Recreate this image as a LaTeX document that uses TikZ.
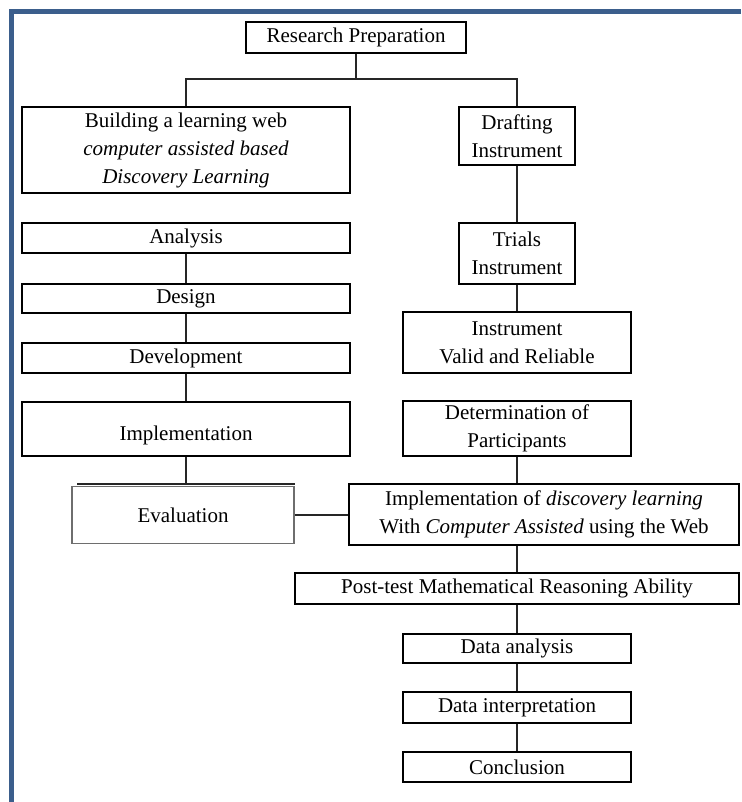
\documentclass[tikz,border=0pt]{standalone}
\usepackage{fontspec}
\setmainfont{Liberation Serif}
\usepackage{tikz}
\usetikzlibrary{positioning,calc}
\definecolor{framecol}{HTML}{3B5E8C}
\definecolor{evalgray}{HTML}{6E6E6E}

\begin{document}
\begin{tikzpicture}[
        x=1pt, y=-1pt,
        font=\fontsize{21}{28}\selectfont,
        box/.style={draw, line width=1.2pt, inner sep=0pt, align=center},
        thickbox/.style={box, line width=1.8pt},
        evalbox/.style={box, draw=evalgray, line width=1.6pt},
        line/.style={line width=1.2pt, draw=black!85},
    ]
        \useasboundingbox (0,0) rectangle (741,802);
        
        % --- frame ---
        \draw[framecol, line width=5pt] (11.5,802) -- (11.5,11.5) -- (741,11.5);
        
        % --- top ---
        \node[thickbox, minimum width=220pt, minimum height=31pt] (prep) at (356,37.5) {Research Preparation};
        \coordinate (split) at (356,79);
        
        % --- left column ---
        \node[box, minimum width=328pt, minimum height=86pt] (build) at (186,150)
            {Building a learning web\\\textit{computer assisted based}\\\textit{Discovery Learning}};
        \node[box, minimum width=328pt, minimum height=30pt] (analysis) at (186,238) {Analysis};
        \node[box, minimum width=328pt, minimum height=29pt] (design) at (186,298.5) {Design};
        \node[box, minimum width=328pt, minimum height=30pt] (develop) at (186,358) {Development};
        \node[box, minimum width=328pt, minimum height=54pt] (impl) at (186,429) {~\\Implementation};
        \node[evalbox, minimum width=222pt, minimum height=57pt] (eval) at (183,515) {Evaluation};
        \coordinate (barleft) at (77,484);
        \coordinate (barright) at (295,484);
        
        % --- right column ---
        \node[box, minimum width=116pt, minimum height=58pt] (draft) at (517,136) {Drafting\\Instrument};
        \node[box, minimum width=116pt, minimum height=61pt] (trial) at (517,253.5) {Trials\\Instrument};
        \node[thickbox, minimum width=228pt, minimum height=61pt] (valid) at (517,342.5) {Instrument\\Valid and Reliable};
        \node[thickbox, minimum width=228pt, minimum height=55pt] (determ) at (517,428.5) {Determination of\\Participants};
        \node[box, minimum width=390pt, minimum height=61pt] (impdl) at (544,514.5)
            {Implementation of \textit{discovery learning}\\With \textit{Computer Assisted} using the Web};
        \node[box, minimum width=444pt, minimum height=31pt] (post) at (517,588.5) {Post-test Mathematical Reasoning Ability};
        \node[thickbox, minimum width=228pt, minimum height=29pt] (dana) at (517,648.5) {Data analysis};
        \node[box, minimum width=228pt, minimum height=31pt] (dint) at (517,707.5) {Data interpretation};
        \node[thickbox, minimum width=228pt, minimum height=30pt] (concl) at (517,767) {Conclusion};
        
        % wiring: prep splits to build, draft
        \draw[line] (prep.south) -- (split);
        \draw[line] (build.north) |- (split) -| (draft.north);
        
        % left chain
        \draw[line] (analysis.south) -- (design.north);
        \draw[line] (design.south) -- (develop.north);
        \draw[line] (develop.south) -- (impl.north);
        \draw[line] (impl.south) -- (impl.south |- barleft);
        \draw[line, line width=1.4pt] (barleft) -- (barright);
        
        % eval -> impdl
        \draw[line] (eval.east) -- (eval.east -| impdl.west);
        
        % right chain
        \draw[line] (draft.south) -- (trial.north);
        \draw[line] (trial.south) -- (valid.north);
        \draw[line] (determ.south) -- (determ.south |- impdl.north);
        \draw[line] (post.north |- impdl.south) -- (post.north);
        \draw[line] (post.south) -- (dana.north);
        \draw[line] (dana.south) -- (dint.north);
        \draw[line] (dint.south) -- (concl.north);
        
        \end{tikzpicture}
\end{document}
